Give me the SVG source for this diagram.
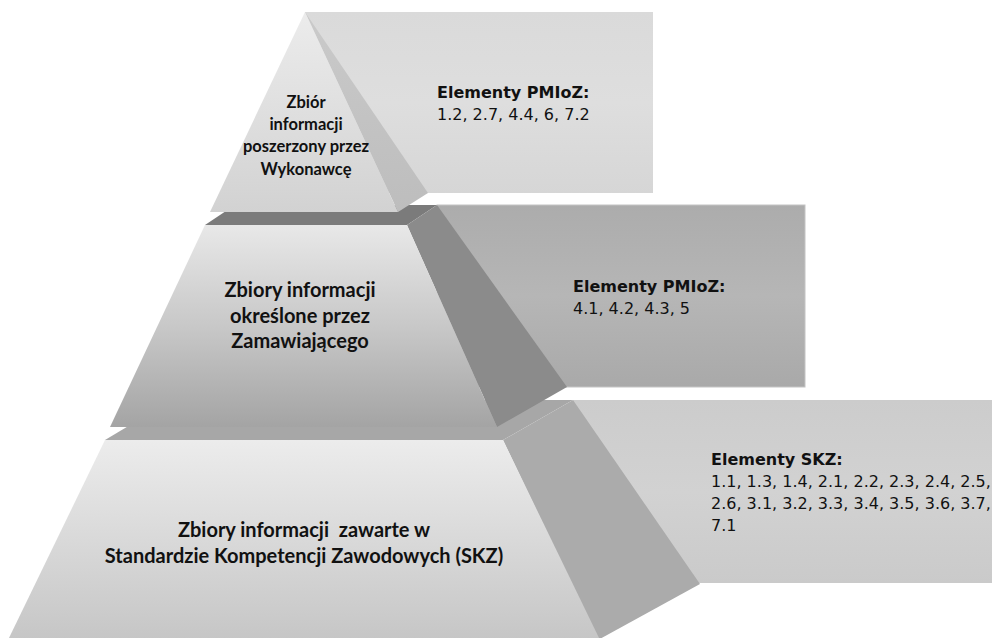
<svg xmlns="http://www.w3.org/2000/svg" width="992" height="638" viewBox="0 0 992 638">
<defs>
<linearGradient id="gTopFront" x1="0" y1="0" x2="0" y2="1"><stop offset="0" stop-color="#ececec"/><stop offset="1" stop-color="#d2d2d2"/></linearGradient>
<linearGradient id="gMidFront" x1="0" y1="0" x2="0" y2="1"><stop offset="0" stop-color="#e8e8e8"/><stop offset="0.5" stop-color="#c8c8c8"/><stop offset="1" stop-color="#a4a4a4"/></linearGradient>
<linearGradient id="gBotFront" x1="0" y1="0" x2="0" y2="1"><stop offset="0" stop-color="#ececec"/><stop offset="1" stop-color="#c6c6c6"/></linearGradient>
<linearGradient id="gTopBox" x1="0" y1="0" x2="0" y2="1"><stop offset="0" stop-color="#dadada"/><stop offset="0.5" stop-color="#dedede"/><stop offset="1" stop-color="#d6d6d6"/></linearGradient>
<linearGradient id="gMidBox" x1="0" y1="0" x2="0" y2="1"><stop offset="0" stop-color="#acacac"/><stop offset="0.5" stop-color="#b6b6b6"/><stop offset="1" stop-color="#a9a9a9"/></linearGradient>
<linearGradient id="gBotBox" x1="0" y1="0" x2="0" y2="1"><stop offset="0" stop-color="#cccccc"/><stop offset="0.5" stop-color="#d2d2d2"/><stop offset="1" stop-color="#cacaca"/></linearGradient>
<linearGradient id="gTopSide" x1="0" y1="0" x2="0" y2="1"><stop offset="0" stop-color="#cacaca"/><stop offset="1" stop-color="#bdbdbd"/></linearGradient>
</defs>
<style>
.lbl{font-family:Lato,"Liberation Sans",sans-serif;font-weight:bold;fill:#111;text-anchor:middle;white-space:pre}
.big{font-size:20px}
.sm{font-size:16.5px}
.ttl{font-family:"DejaVu Sans",Verdana,sans-serif;font-weight:bold;font-size:16px;fill:#111}
.num{font-family:"DejaVu Sans",Verdana,sans-serif;font-size:16px;fill:#111}
</style>
<rect width="992" height="638" fill="#ffffff"/>

<g id="box-top">
<rect x="305" y="12" width="348" height="181" fill="url(#gTopBox)"/>
<text class="ttl" x="437" y="98">Elementy PMIoZ:</text>
<text class="num" x="437" y="120">1.2, 2.7, 4.4, 6, 7.2</text>
</g>
<g id="box-middle">
<rect x="437" y="205" width="368" height="182" fill="url(#gMidBox)" stroke="#c4c4c4" stroke-width="1"/>
<text class="ttl" x="573" y="292">Elementy PMIoZ:</text>
<text class="num" x="573" y="314">4.1, 4.2, 4.3, 5</text>
</g>
<g id="box-bottom">
<rect x="573" y="400" width="420" height="183" fill="url(#gBotBox)"/>
<text class="ttl" x="711" y="465">Elementy SKZ:</text>
<text class="num" x="711" y="487">1.1, 1.3, 1.4, 2.1, 2.2, 2.3, 2.4, 2.5,</text>
<text class="num" x="711" y="509">2.6, 3.1, 3.2, 3.3, 3.4, 3.5, 3.6, 3.7,</text>
<text class="num" x="711" y="531">7.1</text>
</g>

<g id="tier-bottom">
<polygon points="105,440 172,400 573,400 503,440" fill="#a7a7a7"/>
<polygon points="503,440 573,400 700,584 598,640" fill="#ababab"/>
<polygon points="105,440 503,440 600,640 8,640" fill="url(#gBotFront)"/>
<text class="lbl big" x="304" y="537" xml:space="preserve">Zbiory informacji  zawarte w</text>
<text class="lbl big" x="304" y="563">Standardzie Kompetencji Zawodowych (SKZ)</text>
</g>

<g id="tier-middle">
<polygon points="205,225 235,205 437,205 407,225" fill="#7b7b7b"/>
<polygon points="407,225 437,205 567,387 497,427" fill="#8b8b8b"/>
<polygon points="205,225 407,225 497,427 110,427" fill="url(#gMidFront)"/>
<text class="lbl big" x="300" y="297">Zbiory informacji</text>
<text class="lbl big" x="300" y="323">określone przez</text>
<text class="lbl big" x="300" y="348">Zamawiającego</text>
</g>

<g id="tier-top">
<polygon points="305,12 428,193 398,212" fill="url(#gTopSide)"/>
<polygon points="305,12 398,212 210,212" fill="url(#gTopFront)"/>
<text class="lbl sm" x="306" y="108">Zbiór</text>
<text class="lbl sm" x="306" y="130">informacji</text>
<text class="lbl sm" x="306" y="152">poszerzony przez</text>
<text class="lbl sm" x="306" y="175">Wykonawcę</text>
</g>
</svg>
